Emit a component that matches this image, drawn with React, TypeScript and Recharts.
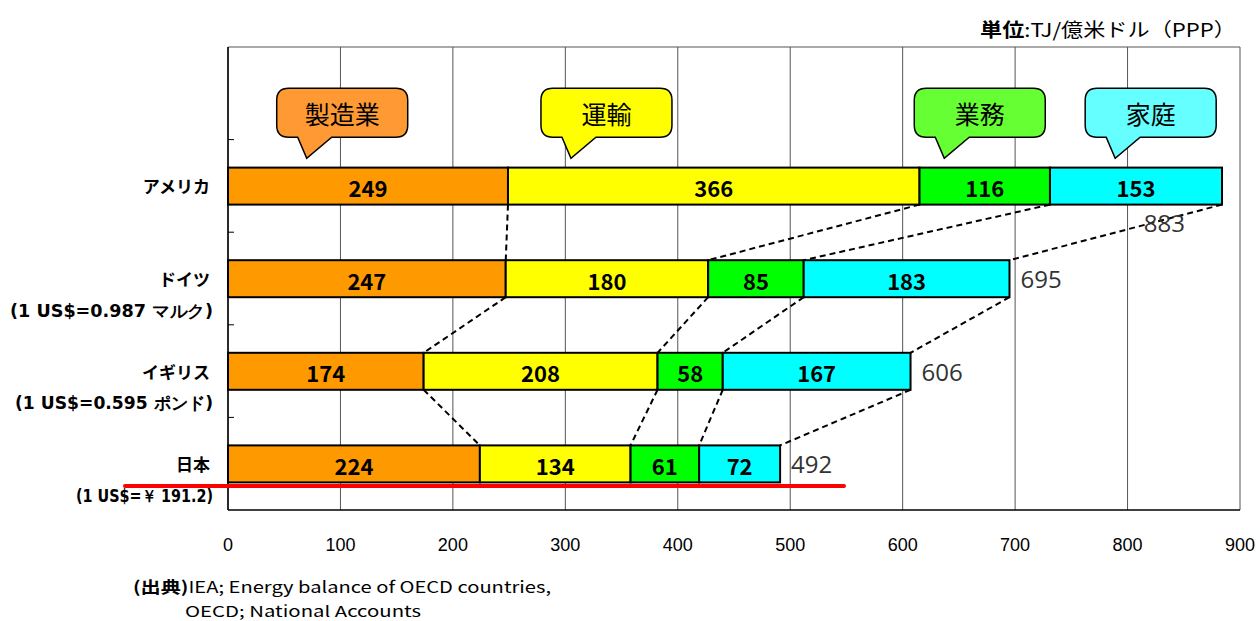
import { BarChart, Bar, XAxis, YAxis, CartesianGrid, ReferenceDot } from "recharts";

// rows: empty top slot holds the callouts, then the four countries
const rowKeys = ["top", "usa", "de", "uk", "jp"];
const countries = ["", "アメリカ", "ドイツ", "イギリス", "日本"];
const rates = ["", "", "(1 US$=0.987 マルク)", "(1 US$=0.595 ポンド)", "(1 US$=￥ 191.2)"];
const rateWidths = [0, 0, 203, 198, 137];

const sectors = ["製造業", "運輸", "業務", "家庭"];
const manufacturing = [249, 247, 174, 224];
const transport = [366, 180, 208, 134];
const commercial = [116, 85, 58, 61];
const residential = [153, 183, 167, 72];
const totals = [883, 695, 606, 492];

const xTicks = [0, 100, 200, 300, 400, 500, 600, 700, 800, 900];
const calloutTips = [70, 305, 637, 789];

const barColors = ["#FF9900", "#FFFF00", "#00FF00", "#00FFFF"];
const calloutColors = ["#FF9933", "#FFFF00", "#66FF33", "#66FFFF"];

const series = [manufacturing, transport, commercial, residential];
const seriesKeys = ["mfg", "trn", "com", "res"];

const W = 1260;
const H = 621;
const PLOT_LEFT = 228;
const PLOT_TOP = 47;
const PLOT_RIGHT = 1240;
const PLOT_BOTTOM = 510;
const Y_AXIS_W = 210;
const X_AXIS_H = 40;
const BAND = (PLOT_BOTTOM - PLOT_TOP) / rowKeys.length;

const JP = "'Noto Sans CJK JP', 'Noto Sans', sans-serif";

const tableData = rowKeys.map((key, i) => {
  const row: Record<string, string | number | undefined> = { key };
  if (i > 0) {
    seriesKeys.forEach((k, s) => {
      row[k] = series[s][i - 1];
    });
  }
  return row;
});

const cum = (row: number, upto: number) => {
  let t = 0;
  for (let s = 0; s <= upto; s++) t += series[s][row];
  return t;
};

const makeShape = (s: number) => (props: any) => {
  const { x, y, width, height, index } = props;
  const r = index - 1;
  if (r < 0 || !(width > 0)) return null;
  const value = series[s][r];
  const ppu = width / value;
  const x0 = x - (cum(r, s) - value) * ppu;
  const end = x + width;
  const bottom = y + height;
  let connector = null;
  if (r < countries.length - 2) {
    const nextEnd = x0 + cum(r + 1, s) * ppu;
    connector = (
      <line
        x1={end}
        y1={bottom}
        x2={nextEnd}
        y2={y + BAND}
        stroke="#000"
        strokeWidth={2}
        strokeDasharray="6 4"
      />
    );
  }
  let total = null;
  if (s === series.length - 1) {
    const fits = end + 60 < PLOT_RIGHT;
    total = (
      <text
        x={fits ? end + 11 : end - 37}
        y={fits ? y + height / 2 : bottom + 18}
        textAnchor={fits ? "start" : "end"}
        dominantBaseline="central"
        fontFamily="'Open Sans', sans-serif"
        fontSize={24}
        fill="#333"
      >
        {totals[r]}
      </text>
    );
  }
  return (
    <g>
      <rect x={x} y={y} width={width} height={height} fill={barColors[s]} stroke="#000" strokeWidth={2} />
      <text
        x={x + width / 2}
        y={y + height / 2 + 1}
        textAnchor="middle"
        dominantBaseline="central"
        fontFamily={JP}
        fontWeight={700}
        fontSize={22}
        fill="#000"
      >
        {value}
      </text>
      {connector}
      {total}
    </g>
  );
};

const CountryTick = (props: any) => {
  const { x, y, payload } = props;
  const i = rowKeys.indexOf(payload.value);
  return (
    <g>
      {countries[i] && (
        <text x={x} y={y} textAnchor="end" dominantBaseline="central" fontFamily={JP} fontWeight={700} fontSize={17} fill="#000">
          {countries[i]}
        </text>
      )}
      {rates[i] && (
        <text
          x={x + 3}
          y={y + 32}
          textAnchor="end"
          dominantBaseline="central"
          fontFamily="'DejaVu Sans', sans-serif"
          fontWeight={700}
          fontSize={17}
          fill="#000"
          textLength={rateWidths[i]}
          lengthAdjust="spacingAndGlyphs"
        >
          {rates[i]}
        </text>
      )}
      {i < rowKeys.length - 1 && (
        <line x1={PLOT_LEFT} x2={PLOT_LEFT + 6} y1={y + BAND / 2} y2={y + BAND / 2} stroke="#000" strokeWidth={1} />
      )}
    </g>
  );
};

const ValueTick = (props: any) => {
  const { x, y, payload } = props;
  return (
    <text x={x} y={y} textAnchor="middle" dominantBaseline="central" fontFamily="'Liberation Sans', sans-serif" fontSize={18} fill="#000">
      {payload.value}
    </text>
  );
};

const makeCallout = (n: number) => (props: any) => {
  const { cx, cy } = props;
  if (cx == null || cy == null) return null;
  const L = cx - 30;
  const R = cx + 101;
  const T = cy - 5;
  const B = cy + 44;
  const rr = 12;
  const d = `M${L + rr},${T} H${R - rr} Q${R},${T} ${R},${T + rr} V${B - rr} Q${R},${B} ${R - rr},${B} H${cx + 25} L${cx},${cy + 65} L${cx - 9},${B} H${L + rr} Q${L},${B} ${L},${B - rr} V${T + rr} Q${L},${T} ${L + rr},${T} Z`;
  return (
    <g>
      <path d={d} fill={calloutColors[n]} stroke="#000" strokeWidth={1.5} />
      <text x={(L + R) / 2} y={(T + B) / 2} textAnchor="middle" dominantBaseline="central" fontFamily={JP} fontSize={25} fill="#000">
        {sectors[n]}
      </text>
    </g>
  );
};

export default function App() {
  return (
    <div style={{ position: "absolute", left: 0, top: 0, width: W, height: H, background: "#fff" }}>
      <BarChart
        width={W}
        height={H}
        data={tableData}
        layout="vertical"
        barSize={37}
        margin={{ top: PLOT_TOP, right: W - PLOT_RIGHT, bottom: H - PLOT_BOTTOM - X_AXIS_H, left: PLOT_LEFT - Y_AXIS_W }}
      >
        <CartesianGrid horizontal={true} vertical={true} horizontalPoints={[PLOT_TOP]} stroke="#555" strokeWidth={1} />
        <XAxis
          type="number"
          domain={[0, 900]}
          ticks={xTicks}
          interval={0}
          height={X_AXIS_H}
          axisLine={{ stroke: "#000", strokeWidth: 1.5 }}
          tickLine={false}
          tickMargin={0}
          tickSize={0}
          tick={(p: any) => <ValueTick {...p} y={PLOT_BOTTOM + 35} />}
        />
        <YAxis
          type="category"
          dataKey="key"
          width={Y_AXIS_W}
          interval={0}
          axisLine={{ stroke: "#000", strokeWidth: 1.5 }}
          tickLine={false}
          tickMargin={12}
          tick={<CountryTick />}
        />
        {seriesKeys.map((k, s) => (
          <Bar key={k} dataKey={k} stackId="a" isAnimationActive={false} shape={makeShape(s)} />
        ))}
        {calloutTips.map((tip, n) => (
          <ReferenceDot key={n} x={tip} y="top" r={0} shape={makeCallout(n)} />
        ))}
      </BarChart>
      <svg width={W} height={H} style={{ position: "absolute", left: 0, top: 0, pointerEvents: "none" }}>
        <line x1={125} y1={486} x2={844} y2={486} stroke="#FF0000" strokeWidth={4} strokeLinecap="round" />
        <text
          x={980}
          y={28}
          dominantBaseline="central"
          fontFamily={JP}
          fontSize={19}
          fill="#000"
          textLength={256}
          lengthAdjust="spacingAndGlyphs"
        >
          <tspan fontWeight={700}>単位</tspan>
          <tspan>:TJ/億米ドル（PPP）</tspan>
        </text>
        <text x={133} y={586} dominantBaseline="central" fontFamily={JP} fontSize={16} fill="#000" textLength={418} lengthAdjust="spacingAndGlyphs">
          <tspan fontWeight={700}>(出典)</tspan>
          <tspan>IEA; Energy balance of OECD countries,</tspan>
        </text>
        <text x={185} y={610} dominantBaseline="central" fontFamily={JP} fontSize={15} fill="#000" textLength={236} lengthAdjust="spacingAndGlyphs">
          OECD; National Accounts
        </text>
      </svg>
    </div>
  );
}
